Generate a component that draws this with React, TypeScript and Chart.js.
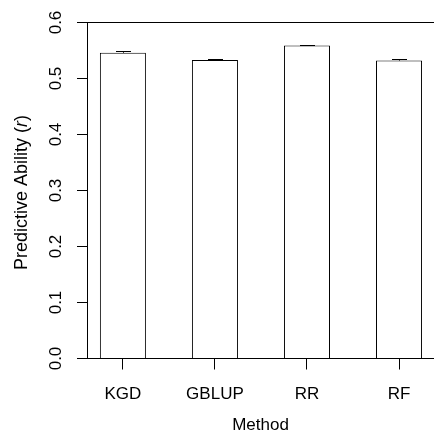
import React, { useEffect, useRef } from "react";
import { Chart, registerables } from "chart.js";

Chart.register(...registerables);

const categories = ["KGD", "GBLUP", "RR", "RF"];
const meanValues = [0.546, 0.533, 0.559, 0.532];
const errorValues = [0.0025, 0.0025, 0.0015, 0.0025];
const yTicks = [0, 0.1, 0.2, 0.3, 0.4, 0.5, 0.6];
const xTitle = "Method";
const yTitleParts = ["Predictive Ability (", "r", ")"];

const FONT = "'Liberation Sans', Arial, Helvetica, sans-serif";
const FONT_SIZE = 17;
const Y_TITLE_SIZE = 18;

export default function App() {
  const ref = useRef<HTMLCanvasElement>(null);

  useEffect(() => {
    if (!ref.current) return;

    const errorBars = {
      id: "errorBars",
      afterDatasetsDraw(chart: any) {
        const ctx = chart.ctx;
        const meta = chart.getDatasetMeta(0);
        const ys = chart.scales.y;
        ctx.save();
        ctx.strokeStyle = "#000";
        ctx.lineWidth = 1;
        meta.data.forEach((el: any, i: number) => {
          const x = Math.round(el.x) + 0.5;
          const yTop = Math.round(ys.getPixelForValue(meanValues[i] + errorValues[i])) + 0.5;
          const yMid = ys.getPixelForValue(meanValues[i]);
          ctx.beginPath();
          ctx.moveTo(x, yTop);
          ctx.lineTo(x, yMid);
          ctx.moveTo(x - 7.5, yTop);
          ctx.lineTo(x + 7.5, yTop);
          ctx.stroke();
        });
        ctx.restore();
      },
    };

    const yTitle = {
      id: "yTitle",
      afterDraw(chart: any) {
        const ctx = chart.ctx;
        const ca = chart.chartArea;
        const fN = `${Y_TITLE_SIZE}px ${FONT}`;
        const fI = `italic ${Y_TITLE_SIZE}px ${FONT}`;
        ctx.save();
        ctx.font = fN;
        const w1 = ctx.measureText(yTitleParts[0]).width;
        const w3 = ctx.measureText(yTitleParts[2]).width;
        ctx.font = fI;
        const w2 = ctx.measureText(yTitleParts[1]).width;
        const total = w1 + w2 + w3;
        const cy = (ca.top + ca.bottom) / 2 + 2;
        ctx.translate(27, cy);
        ctx.rotate(-Math.PI / 2);
        ctx.textBaseline = "alphabetic";
        ctx.textAlign = "left";
        ctx.fillStyle = "#000";
        let x = -total / 2;
        ctx.font = fN;
        ctx.fillText(yTitleParts[0], x, 0);
        x += w1;
        ctx.font = fI;
        ctx.fillText(yTitleParts[1], x, 0);
        x += w2;
        ctx.font = fN;
        ctx.fillText(yTitleParts[2], x, 0);
        ctx.restore();
      },
    };

    const chart = new Chart(ref.current, {
      type: "bar",
      data: {
        datasets: [
          {
            data: meanValues.map((v, i) => ({ x: i, y: v })),
            backgroundColor: "#ffffff",
            borderColor: "#000000",
            borderWidth: 1,
            borderSkipped: "start",
            barPercentage: 1,
            categoryPercentage: 0.5,
          },
        ],
      },
      options: {
        animation: false,
        responsive: true,
        maintainAspectRatio: false,
        layout: { padding: { top: 22.5, left: 0, right: 0, bottom: 0 } },
        plugins: {
          legend: { display: false },
          tooltip: { enabled: false },
          title: { display: false },
        },
        scales: {
          x: {
            type: "linear",
            offset: false,
            min: -0.39,
            max: 3.38,
            afterBuildTicks: (s: any) => {
              s.ticks = categories.map((_, i) => ({ value: i }));
            },
            afterFit: (s: any) => {
              s.height = 77.5;
            },
            grid: {
              display: true,
              drawOnChartArea: false,
              drawTicks: true,
              tickLength: 11,
              tickColor: "#000",
              color: "#000",
              offset: false,
            },
            border: { display: true, color: "#000", width: 1 },
            ticks: {
              callback: (v: any) => categories[Number(v)],
              font: { family: FONT, size: FONT_SIZE },
              color: "#000",
              padding: 15,
              maxRotation: 0,
              autoSkip: false,
            },
            title: {
              display: true,
              text: xTitle,
              font: { family: FONT, size: FONT_SIZE },
              color: "#000",
              padding: { top: 0, bottom: 0 },
            },
          },
          y: {
            min: 0,
            max: 0.6,
            afterBuildTicks: (s: any) => {
              s.ticks = yTicks.map((v) => ({ value: v }));
            },
            afterFit: (s: any) => {
              s.width = 87;
            },
            grid: {
              drawOnChartArea: true,
              drawTicks: true,
              tickLength: 10,
              tickColor: "#000",
              color: (c: any) =>
                c.tick && Math.abs(c.tick.value - 0.6) < 1e-9 ? "#000" : "rgba(0,0,0,0)",
            },
            border: { display: true, color: "#000", width: 1 },
            ticks: {
              callback: (v: any) => Number(v).toFixed(1),
              minRotation: 90,
              maxRotation: 90,
              crossAlign: "center",
              padding: 9,
              font: { family: FONT, size: FONT_SIZE },
              color: "#000",
            },
          },
        },
      },
      plugins: [errorBars, yTitle],
    } as any);

    return () => chart.destroy();
  }, []);

  return (
    <div style={{ position: "absolute", left: 0, top: 0, width: 434, height: 436, background: "#fff" }}>
      <canvas ref={ref} style={{ display: "block" }} />
    </div>
  );
}
